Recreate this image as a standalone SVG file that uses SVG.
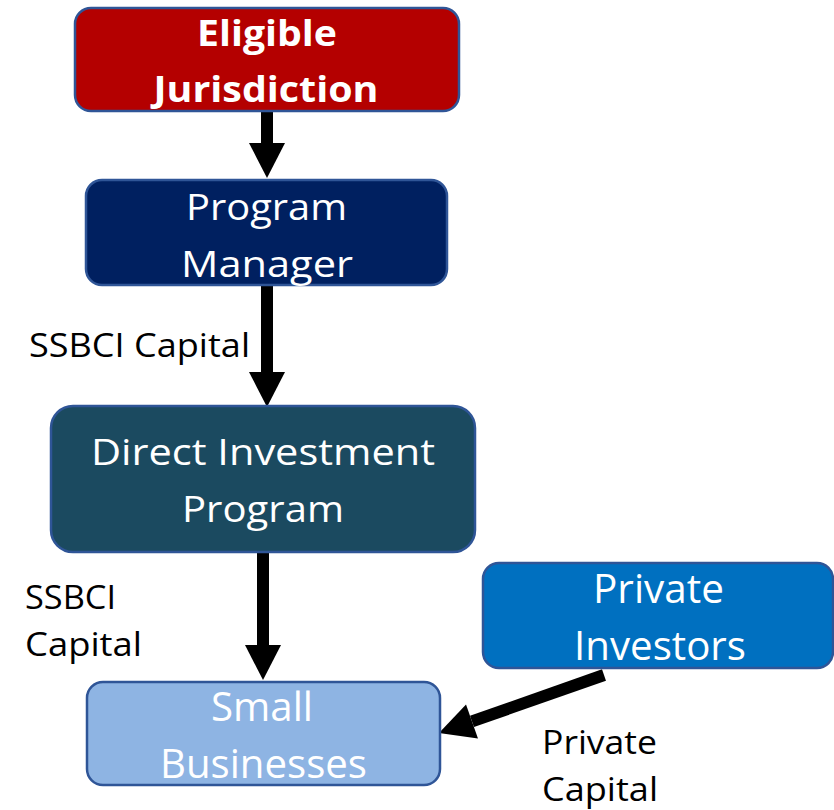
<svg xmlns="http://www.w3.org/2000/svg" width="834" height="810" viewBox="0 0 834 810">
  <style>
    .box { stroke: #2F5597; stroke-width: 2.5; }
    .t { font-family: "Open Sans", "Noto Sans", sans-serif; fill: #FFFFFF; text-anchor: middle; }
    .tb { font-weight: bold; }
    .lbl { font-family: "Open Sans", "Noto Sans", sans-serif; fill: #000000; font-size: 33px; }
    .flow { stroke: #000000; stroke-width: 12; fill: none; marker-end: url(#head); }
  </style>
  <defs>
    <marker id="head" markerUnits="userSpaceOnUse" markerWidth="36" markerHeight="36" refX="0" refY="18" orient="auto" overflow="visible">
      <path d="M0,0 L35,18 L0,36 Z" fill="#000000"/>
    </marker>
  </defs>
  <rect width="834" height="810" fill="#FFFFFF"/>

  <g id="connectors">
    <line class="flow" x1="267" y1="111" x2="267" y2="143"/>
    <line class="flow" x1="267" y1="285" x2="267" y2="372"/>
    <line class="flow" x1="263" y1="552" x2="263" y2="645"/>
    <line class="flow" x1="604" y1="675" x2="472" y2="721.4"/>
  </g>

  <g id="eligible-jurisdiction">
    <rect class="box" x="75" y="8" width="384" height="103" rx="16" fill="#B40000"/>
    <text class="t tb" x="267" y="46" font-size="35" textLength="140" lengthAdjust="spacingAndGlyphs">Eligible</text>
    <text class="t tb" x="266" y="102" font-size="35" textLength="225" lengthAdjust="spacingAndGlyphs">Jurisdiction</text>
  </g>

  <g id="program-manager">
    <rect class="box" x="86" y="180" width="361" height="105" rx="16" fill="#002060"/>
    <text class="t" x="266.5" y="220" font-size="37" textLength="161" lengthAdjust="spacingAndGlyphs">Program</text>
    <text class="t" x="267" y="277" font-size="37" textLength="172" lengthAdjust="spacingAndGlyphs">Manager</text>
  </g>

  <g id="direct-investment-program">
    <rect class="box" x="51" y="406" width="424" height="146" rx="22" fill="#1B4A60"/>
    <text class="t" x="263" y="465" font-size="37" textLength="344" lengthAdjust="spacingAndGlyphs">Direct Investment</text>
    <text class="t" x="263" y="522" font-size="37" textLength="162" lengthAdjust="spacingAndGlyphs">Program</text>
  </g>

  <g id="small-businesses">
    <rect class="box" x="87" y="682" width="353" height="103" rx="16" fill="#8EB4E3"/>
    <text class="t" x="262" y="721" font-size="40" textLength="102" lengthAdjust="spacingAndGlyphs">Small</text>
    <text class="t" x="263.5" y="778" font-size="40" textLength="207" lengthAdjust="spacingAndGlyphs">Businesses</text>
  </g>

  <g id="private-investors">
    <rect class="box" x="483" y="563" width="350" height="105" rx="16" fill="#0070C0"/>
    <text class="t" x="658.5" y="603" font-size="40" textLength="131" lengthAdjust="spacingAndGlyphs">Private</text>
    <text class="t" x="660" y="660" font-size="40" textLength="172" lengthAdjust="spacingAndGlyphs">Investors</text>
  </g>

  <g id="labels">
    <text class="lbl" x="29" y="357" textLength="221" lengthAdjust="spacingAndGlyphs">SSBCI Capital</text>
    <text class="lbl" x="25" y="609" textLength="91" lengthAdjust="spacingAndGlyphs">SSBCI</text>
    <text class="lbl" x="25" y="656" textLength="117" lengthAdjust="spacingAndGlyphs">Capital</text>
    <text class="lbl" x="542" y="754" textLength="115" lengthAdjust="spacingAndGlyphs">Private</text>
    <text class="lbl" x="542" y="801" textLength="116" lengthAdjust="spacingAndGlyphs">Capital</text>
  </g>
</svg>
